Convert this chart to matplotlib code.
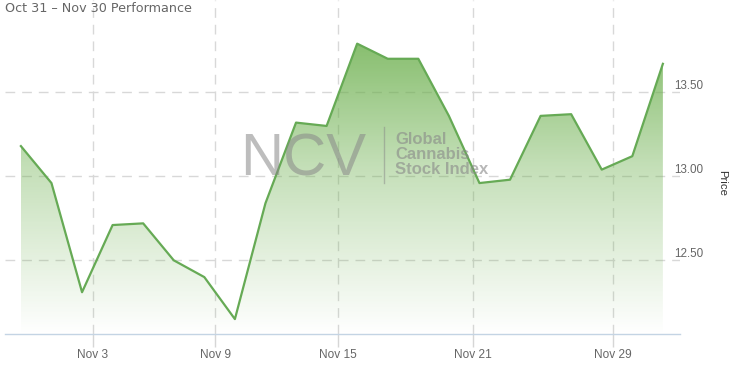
import numpy as np
import matplotlib
matplotlib.use("Agg")
import matplotlib.pyplot as plt
from matplotlib.colors import LinearSegmentedColormap
from matplotlib.patches import Polygon
from matplotlib.transforms import ScaledTranslation
from matplotlib.lines import Line2D

# closing prices, one per trading day Oct 31 - Nov 30
prices = [13.18, 12.96, 12.31, 12.71, 12.72, 12.50, 12.40, 12.15,
          12.84, 13.32, 13.30, 13.79, 13.70, 13.70, 13.36, 12.96,
          12.98, 13.36, 13.37, 13.04, 13.12, 13.67]
tick_labels = ["Nov 3", "Nov 9", "Nov 15", "Nov 21", "Nov 29"]
tick_pos = [2.35, 6.36, 10.36, 14.78, 19.36]
ytick_vals = [12.5, 13.0, 13.5]
ytick_labels = ["12.50", "13.00", "13.50"]

W, H = 737, 365
fig = plt.figure(figsize=(W / 100, H / 100), dpi=100)
ax = fig.add_axes([5 / W, (H - 333.7) / H, 675 / W, 333.7 / H])

ylo, yhi = 12.063, 14.05
x = np.arange(len(prices))

# gradient fill under the line
green = (0.42, 0.69, 0.30)
cmap = LinearSegmentedColormap.from_list(
    "fade", [(*green, 0.0), (*green, 0.4), (*green, 0.95)])
grad = np.linspace(0, 1, 256).reshape(-1, 1)
img = ax.imshow(grad, extent=[x[0], x[-1], ylo, yhi], origin="lower",
                aspect="auto", cmap=cmap, zorder=1)
verts = [(x[0], ylo)] + list(zip(x, prices)) + [(x[-1], ylo)]
poly = Polygon(verts, closed=True, facecolor="none", edgecolor="none")
ax.add_patch(poly)
img.set_clip_path(poly)

ax.plot(x, prices, color="#66aa55", lw=1.6, zorder=3)

ax.set_xlim(-0.52, 21.56)
ax.set_ylim(ylo, yhi)

ax.set_xticks(tick_pos)
ax.set_xticklabels(tick_labels, fontsize=8.6, color="#666666",
                   family="Liberation Sans")
ax.tick_params(axis="x", length=9, color="#d6d6d6", width=1, pad=2)

ax.yaxis.tick_right()
ax.set_yticks(ytick_vals)
ax.set_yticklabels(ytick_labels, fontsize=8.4, color="#666666",
                   family="Liberation Sans")
ax.tick_params(axis="y", length=0, pad=-4)
for lab in ax.get_yticklabels():
    lab.set_transform(lab.get_transform() + ScaledTranslation(0, 0.075, fig.dpi_scale_trans))

ax.grid(True, color="#d8d8d8", lw=1, linestyle=(0, (7, 5)), zorder=0)
ax.set_axisbelow(True)
for s in ["top", "right", "left"]:
    ax.spines[s].set_visible(False)
ax.spines["bottom"].set_color("#c4d4e4")
ax.spines["bottom"].set_linewidth(1)

ax.yaxis.set_label_position("right")
ax.set_ylabel("Price", rotation=270, fontsize=8.2, color="#333333",
              family="Liberation Sans", va="center", ha="center")
ax.yaxis.set_label_coords(1.062, 0.452)

# watermark
fig.text(240 / W, (H - 175) / H, "NCV", fontsize=43, family="Liberation Sans",
         color="#888888", alpha=0.55, va="baseline", ha="left", zorder=5)
fig.add_artist(Line2D([384 / W, 384 / W], [(H - 127) / H, (H - 183) / H],
                      color="#888888", alpha=0.5, lw=1))
fig.text(395 / W, (H - 132) / H, "Global\nCannabis\nStock Index", fontsize=12,
         family="Liberation Sans", weight="bold", color="#888888", alpha=0.6,
         va="top", ha="left", linespacing=1.0)

fig.text(5 / W, 1 - 8 / H, "Oct 31 \u2013 Nov 30 Performance", fontsize=9.2,
         color="#666666", family="DejaVu Sans", va="center", ha="left")

fig.savefig("out.png", dpi=100)
